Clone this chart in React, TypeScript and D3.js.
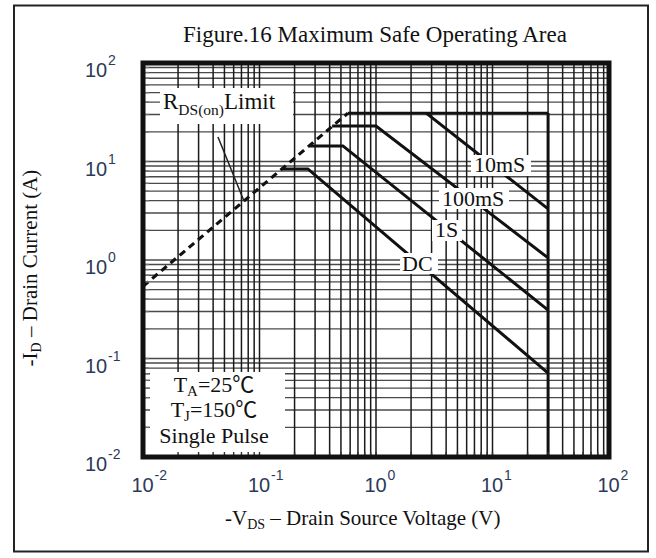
import React from 'react';
import * as d3 from 'd3';

// ---- data (V in volts, I in amps) ----
const decadeExponents = [-2, -1, 0, 1, 2];
const rdsLimit: [number, number][] = [[0.01, 0.54], [0.574, 31]];
const envelopeTop: [number, number][] = [[0.574, 31], [30, 31]];
const envelopeSide: [number, number][] = [[30, 31], [30, 0.01]];
const pulse10ms: [number, number][] = [[2.7, 31], [30, 3.3]];
const pulse100ms: [number, number][] = [[0.42, 22.9], [1.0, 22.9], [30, 1.05]];
const pulse1s: [number, number][] = [[0.27, 14.4], [0.52, 14.4], [30, 0.31]];
const pulseDC: [number, number][] = [[0.155, 8.4], [0.26, 8.4], [30, 0.071]];
const rdsPointer: [number, number][] = [[0.044, 17.7], [0.0736, 3.98]];
const curveLabels = ['10mS', '100mS', '1S', 'DC'];

const W = 656, H = 558;
const x = d3.scaleLog().domain([0.01, 100]).range([143, 609]);
const y = d3.scaleLog().domain([0.01, 100]).range([457, 63]);

const gridVals: number[] = [];
for (let e = -2; e <= 1; e++) for (let k = 1; k <= 9; k++) gridVals.push(k * Math.pow(10, e));
gridVals.push(100);

const line = d3.line<[number, number]>().x(d => x(d[0])).y(d => y(d[1]));

const SERIF = "'Liberation Serif', 'Times New Roman', 'Noto Sans CJK SC', serif";
const SANS = "'Liberation Sans', Arial, sans-serif";
const TICK_COLOR = '#2c3a5a';

export default function App() {
  const [x0, x1] = x.range();
  const [y0, y1] = y.range();
  const labelBoxes = [
    { x: 471, y: 155, w: 60, h: 21, tx: 474, ty: 172 },
    { x: 439, y: 188, w: 70, h: 21, tx: 442, ty: 206 },
    { x: 432, y: 220, w: 30, h: 21, tx: 435, ty: 237 },
    { x: 400, y: 253, w: 38, h: 21, tx: 402, ty: 271 },
  ];
  return (
    <svg width={W} height={H} style={{ position: 'absolute', left: 0, top: 0, background: '#fff' }}>
      <rect x={14} y={5.5} width={634} height={546} fill="#fff" stroke="#222" strokeWidth={2} />
      <text x={375} y={42} textAnchor="middle" fontFamily={SERIF} fontSize={23} fill="#111">
        Figure.16 Maximum Safe Operating Area
      </text>

      {/* grid */}
      <g>
        {gridVals.map((v, i) => (
          <line key={'h' + i} x1={x0} x2={x1} y1={y(v)} y2={y(v)} stroke="#4a4a4a" strokeWidth={1.3} />
        ))}
        {gridVals.map((v, i) => (
          <line key={'v' + i} x1={x(v)} x2={x(v)} y1={y0} y2={y1} stroke="#1a1a1a" strokeWidth={1.5} />
        ))}
      </g>

      {/* curves */}
      <path d={line(rdsLimit)!} fill="none" stroke="#111" strokeWidth={3.2} strokeDasharray="7,5" />
      <path d={line(envelopeTop)!} fill="none" stroke="#111" strokeWidth={2.5} />
      <path d={line(envelopeSide)!} fill="none" stroke="#111" strokeWidth={3} />
      <path d={line(pulse10ms)!} fill="none" stroke="#111" strokeWidth={3} />
      <path d={line(pulse100ms)!} fill="none" stroke="#111" strokeWidth={3} />
      <path d={line(pulse1s)!} fill="none" stroke="#111" strokeWidth={3} />
      <path d={line(pulseDC)!} fill="none" stroke="#111" strokeWidth={3} />
      <path d={line(rdsPointer)!} fill="none" stroke="#222" strokeWidth={1.5} />

      {/* curve labels */}
      {curveLabels.map((t, i) => {
        const b = labelBoxes[i];
        return (
          <g key={t}>
            <rect x={b.x} y={b.y} width={b.w} height={b.h} fill="#fff" />
            <text x={b.tx} y={b.ty} fontFamily={SERIF} fontSize={22} fill="#111">{t}</text>
          </g>
        );
      })}

      {/* RDS label */}
      <rect x={160} y={88} width={133} height={36} fill="#fff" />
      <text x={163} y={109} fontFamily={SERIF} fontSize={23} fill="#111">
        R<tspan fontSize={15.5} dy={6}>DS(on)</tspan><tspan dy={-6}>Limit</tspan>
      </text>

      {/* conditions */}
      <rect x={150} y={372} width={135} height={85} fill="#fff" />
      <g fontFamily={SERIF} fontSize={22} fill="#111" textAnchor="middle">
        <text x={214} y={392}>T<tspan fontSize={15} dy={4}>A</tspan><tspan dy={-4}>=25℃</tspan></text>
        <text x={214} y={417}>T<tspan fontSize={15} dy={4}>J</tspan><tspan dy={-4}>=150℃</tspan></text>
        <text x={214} y={443}>Single Pulse</text>
      </g>

      {/* minor ticks */}
      {gridVals.map((v, i) => (
        <g key={'t' + i}>
          <line x1={x(v)} x2={x(v)} y1={y0} y2={y0 - 5} stroke="#333" strokeWidth={1.4} />
          <line x1={x0} x2={x0 + 6} y1={y(v)} y2={y(v)} stroke="#777" strokeWidth={1.4} />
        </g>
      ))}

      {/* plot frame */}
      <rect x={x0} y={y1} width={x1 - x0} height={y0 - y1} fill="none" stroke="#111" strokeWidth={5} />

      {/* tick labels */}
      <g fontFamily={SANS} fill={TICK_COLOR}>
        {decadeExponents.map(e => {
          const v = Math.pow(10, e);
          return (
            <g key={'xl' + e}>
              <text x={x(v) - 11.5} y={492} fontSize={20}>10</text>
              <text x={x(v) + 11.5} y={480} fontSize={14}>{e}</text>
            </g>
          );
        })}
        {decadeExponents.map(e => {
          const v = Math.pow(10, e);
          return (
            <g key={'yl' + e}>
              <text x={85} y={y(v) + 14} fontSize={20}>10</text>
              <text x={108} y={y(v) + 2} fontSize={14}>{e}</text>
            </g>
          );
        })}
      </g>

      {/* axis titles */}
      <text x={225} y={525} fontFamily={SERIF} fontSize={21} fill="#111">
        -V<tspan fontSize={14} dy={4}>DS</tspan><tspan dy={-4}> – Drain Source Voltage (V)</tspan>
      </text>
      <text transform="translate(37,268) rotate(-90)" textAnchor="middle" fontFamily={SERIF} fontSize={21} fill="#111">
        -I<tspan fontSize={14} dy={4}>D</tspan><tspan dy={-4}> – Drain Current (A)</tspan>
      </text>
    </svg>
  );
}
